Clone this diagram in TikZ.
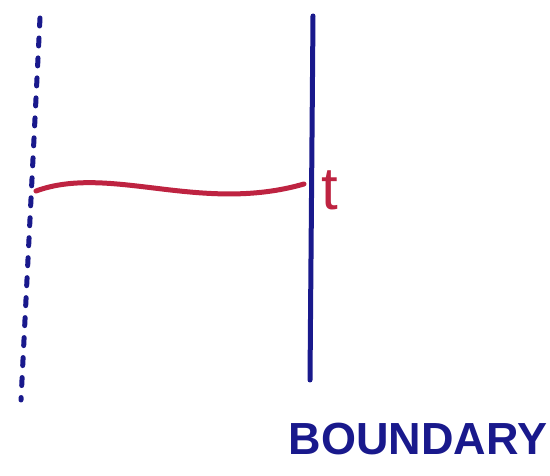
\documentclass[tikz,border=0pt]{standalone}
\usepackage{fontspec}
\setsansfont{Liberation Sans}
\usetikzlibrary{positioning}
\definecolor{penblue}{RGB}{25,25,140}
\definecolor{penred}{RGB}{190,35,65}

\begin{document}
\begin{tikzpicture}[x=1pt,y=1pt,
    pen/.style={line width=5pt,line cap=round}]
    \useasboundingbox (0,0) rectangle (550,476);

    \coordinate (dtop) at (40,458);
    \coordinate (dbot) at (21,76);
    \coordinate (btop) at (313,460);
    \coordinate (bbot) at (310,96);
    \coordinate (cstart) at (36,285);
    \coordinate (cend) at (304,292);

    \draw[pen,penblue,dash pattern=on 8pt off 12pt] (dtop) -- (dbot);
    \draw[pen,penblue] (btop) -- (bbot);
    \draw[pen,penred] (cstart) .. controls (110,312) and (200,262) .. (cend);

    \node[penred,font=\sffamily\fontsize{60}{60}\selectfont,anchor=west] (t) at (318,286) {t};
    \node[penblue,font=\sffamily\bfseries\fontsize{45}{45}\selectfont] (bnd) at (418,37) {BOUNDARY};
\end{tikzpicture}
\end{document}
